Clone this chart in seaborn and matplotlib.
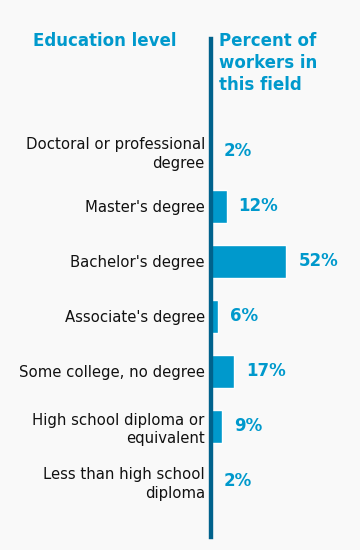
import matplotlib
matplotlib.use("Agg")
import matplotlib.pyplot as plt
import seaborn as sns
import pandas as pd

categories = ["Doctoral or professional\ndegree", "Master's degree", "Bachelor's degree",
              "Associate's degree", "Some college, no degree",
              "High school diploma or\nequivalent", "Less than high school\ndiploma"]
values = [2, 12, 52, 6, 17, 9, 2]
value_labels = ["2%", "12%", "52%", "6%", "17%", "9%", "2%"]

df = pd.DataFrame({"level": categories, "pct": values})

sns.set_style("white")
plt.rcParams['font.family'] = ['DejaVu Sans']

BG = "#F9F9F9"
BAR = "#0099CC"
SPINE = "#00628C"
TITLE = "#0099CC"

W, H = 360, 550
fig = plt.figure(figsize=(W / 100, H / 100), dpi=100, facecolor=BG)
# axes from x=209px, 1.49 px per percent; y from 39 to 537 px
left_px, top_px, bot_px = 209, 39.3, 537
width_px = 149
ax = fig.add_axes([left_px / W, 1 - bot_px / H, width_px / W, (bot_px - top_px) / H])
ax.set_facecolor(BG)

sns.barplot(data=df, x="pct", y="level", orient="h", color=BAR, width=0.6,
            saturation=1, ax=ax)
ax.set_xlim(0, 100)
row = 55.0
ax.set_ylim(6 + (bot_px - 481) / row, -(151 - top_px) / row)

for s in ["top", "right", "bottom"]:
    ax.spines[s].set_visible(False)
ax.spines["left"].set_color(SPINE)
ax.spines["left"].set_linewidth(4.4 * 0.72)
ax.spines["left"].set_position(("outward", -1.5))
ax.spines["left"].set_zorder(5)
ax.set_xticks([])
ax.tick_params(axis="y", length=0, pad=4.5, labelsize=10.7, labelcolor="#111111")
for t in ax.get_yticklabels():
    t.set_linespacing(1.3)
ax.set_xlabel("")
ax.set_ylabel("")

ax.bar_label(ax.containers[0], labels=value_labels, padding=8.5,
             fontsize=12, fontweight="bold", color=TITLE)

fig.text(33 / W, 1 - 41 / H, "Education level", fontsize=12, fontweight="bold",
         color=TITLE, ha="left", va="center")
fig.text(219 / W, 1 - 63 / H, "Percent of\nworkers in\nthis field", fontsize=12,
         fontweight="bold", color=TITLE, ha="left", va="center", linespacing=1.3)

fig.savefig("out.png", dpi=100, facecolor=BG)
